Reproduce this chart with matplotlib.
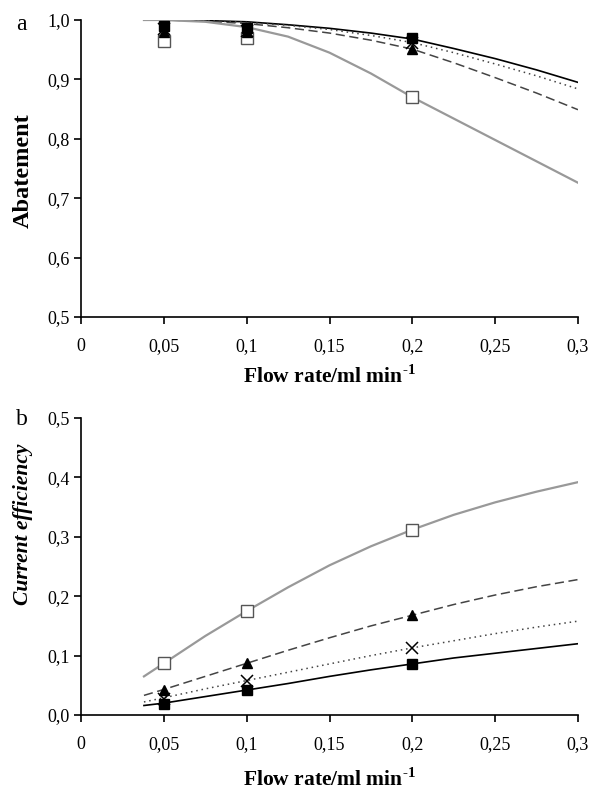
import matplotlib
matplotlib.use("Agg")
import matplotlib.pyplot as plt

plt.rcParams['font.family'] = ['Liberation Serif', 'DejaVu Serif']
plt.rcParams['mathtext.fontset'] = 'custom'
plt.rcParams['mathtext.rm'] = 'Liberation Serif:bold'
plt.rcParams['mathtext.bf'] = 'Liberation Serif:bold'

# ---------------- data ----------------
flow_exp = [0.05, 0.1, 0.2]

# panel a: abatement, experimental points
abat_fsq = [0.990, 0.987, 0.970]
abat_tri = [0.980, 0.980, 0.951]
abat_x = [0.985, 0.982, 0.961]
abat_osq = [0.965, 0.970, 0.870]

# panel b: current efficiency, experimental points
ce_fsq = [0.018, 0.042, 0.086]
ce_tri = [0.042, 0.087, 0.168]
ce_x = [0.027, 0.058, 0.113]
ce_osq = [0.087, 0.175, 0.312]

# model curves (read at fixed flow rates)
flow_mod = [0.038, 0.05, 0.075, 0.1, 0.125, 0.15, 0.175, 0.2, 0.225, 0.25, 0.275, 0.3]

abat_fsq_mod = [1.000, 1.000, 0.999, 0.997, 0.992, 0.986, 0.978, 0.968, 0.952, 0.935, 0.916, 0.895]
abat_x_mod = [1.000, 1.000, 0.999, 0.996, 0.991, 0.984, 0.974, 0.962, 0.945, 0.926, 0.906, 0.884]
abat_tri_mod = [1.000, 1.000, 0.998, 0.994, 0.987, 0.978, 0.966, 0.951, 0.928, 0.903, 0.877, 0.849]
abat_osq_mod = [1.000, 1.000, 0.997, 0.988, 0.972, 0.945, 0.910, 0.870, 0.834, 0.798, 0.762, 0.726]

ce_fsq_mod = [0.016, 0.020, 0.031, 0.042, 0.053, 0.065, 0.076, 0.086, 0.096, 0.104, 0.112, 0.120]
ce_x_mod = [0.022, 0.029, 0.044, 0.058, 0.072, 0.086, 0.100, 0.113, 0.125, 0.137, 0.148, 0.158]
ce_tri_mod = [0.033, 0.043, 0.065, 0.087, 0.109, 0.130, 0.150, 0.168, 0.186, 0.202, 0.216, 0.228]
ce_osq_mod = [0.065, 0.087, 0.133, 0.175, 0.215, 0.252, 0.284, 0.312, 0.337, 0.358, 0.376, 0.392]

xticks = [0, 0.05, 0.1, 0.15, 0.2, 0.25, 0.3]
xticklabels = ['0', '0,05', '0,1', '0,15', '0,2', '0,25', '0,3']
yticks_a = [0.5, 0.6, 0.7, 0.8, 0.9, 1.0]
yticklabels_a = ['0,5', '0,6', '0,7', '0,8', '0,9', '1,0']
yticks_b = [0.0, 0.1, 0.2, 0.3, 0.4, 0.5]
yticklabels_b = ['0,0', '0,1', '0,2', '0,3', '0,4', '0,5']

GRAY = '#999999'
DGRAY = '#444444'
XLABEL = 'Flow rate/ml min$^{\\text{-1}}$'

fig = plt.figure(figsize=(5.9, 7.93), dpi=100)
ax_a = fig.add_axes([81 / 590, 1 - 317 / 793, 497 / 590, 297 / 793])
ax_b = fig.add_axes([81 / 590, 1 - 715 / 793, 497 / 590, 297 / 793])


def draw_panel(ax, curves, points):
    for y, st in curves:
        ax.plot(flow_mod, y, **st)
    for y, st in points:
        ax.plot(flow_exp, y, linestyle='none', **st)
    ax.set_xlim(0, 0.3)
    ax.set_xticks(xticks)
    ax.set_xticklabels(xticklabels)
    for s in ['top', 'right']:
        ax.spines[s].set_visible(False)
    for s in ['left', 'bottom']:
        ax.spines[s].set_linewidth(1.2)
    ax.tick_params(labelsize=13, length=5, width=1.2, direction='out')
    ax.tick_params(axis='x', pad=10)
    ax.tick_params(axis='y', pad=3)


line_styles = [
    dict(color='black', lw=1.2, ls='-'),
    dict(color=DGRAY, lw=1.1, ls=(0, (1, 2.5))),
    dict(color=DGRAY, lw=1.1, ls=(0, (6, 3))),
    dict(color=GRAY, lw=1.6, ls='-'),
]
mk_styles = [
    dict(marker='s', ms=6.5, mfc='black', mec='black'),
    dict(marker='x', ms=8, mec='black', mew=1.1),
    dict(marker='^', ms=7.5, mfc='black', mec='black'),
    dict(marker='s', ms=8, mfc='white', mec='#555555', mew=1.0),
]
pt_order = [mk_styles[3], mk_styles[1], mk_styles[2], mk_styles[0]]

draw_panel(ax_a,
           list(zip([abat_fsq_mod, abat_x_mod, abat_tri_mod, abat_osq_mod], line_styles)),
           list(zip([abat_osq, abat_x, abat_tri, abat_fsq], pt_order)))
ax_a.set_ylim(0.5, 1.0)
ax_a.set_yticks(yticks_a)
ax_a.set_yticklabels(yticklabels_a)
ax_a.set_ylabel('Abatement', fontsize=17.5, fontweight='bold', va='center')
ax_a.yaxis.set_label_coords(-(81 - 23) / 497, (317 - 171) / 297)
ax_a.set_xlabel(XLABEL, fontsize=15.5, fontweight='bold', va='center')
ax_a.xaxis.set_label_coords(0.5, -(377 - 317) / 297)

draw_panel(ax_b,
           list(zip([ce_fsq_mod, ce_x_mod, ce_tri_mod, ce_osq_mod], line_styles)),
           list(zip([ce_osq, ce_x, ce_tri, ce_fsq], pt_order)))
ax_b.set_ylim(0.0, 0.5)
ax_b.set_yticks(yticks_b)
ax_b.set_yticklabels(yticklabels_b)
ax_b.set_ylabel('Current efficiency', fontsize=15.5, fontweight='bold', style='italic', va='center')
ax_b.yaxis.set_label_coords(-(81 - 23) / 497, (715 - 524) / 297)
ax_b.set_xlabel(XLABEL, fontsize=15.5, fontweight='bold', va='center')
ax_b.xaxis.set_label_coords(0.5, -(779 - 715) / 297)

fig.text(16 / 590, 1 - 24 / 793, 'a', fontsize=17, va='center', ha='left')
fig.text(16 / 590, 1 - 420 / 793, 'b', fontsize=17, va='center', ha='left')

fig.savefig('out.png', dpi=100)
